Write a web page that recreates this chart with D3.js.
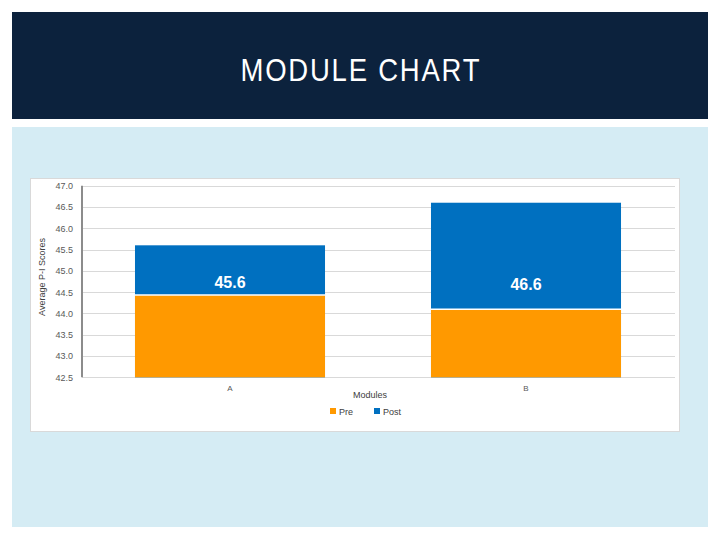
<!DOCTYPE html>
<html>
<head>
<meta charset="utf-8">
<script src="https://cdn.jsdelivr.net/npm/d3@7"></script>
<style>
  html, body { margin: 0; padding: 0; background: #ffffff; }
  svg { display: block; }
</style>
</head>
<body>
<div id="chart"></div>
<script>
// ---- data ----
const title = "MODULE CHART";
const categories = ["A", "B"];
const seriesNames = ["Pre", "Post"];
const preValues = [44.43, 44.1];
const postValues = [45.6, 46.6];
const postLabels = ["45.6", "46.6"];
const yTicks = [42.5, 43.0, 43.5, 44.0, 44.5, 45.0, 45.5, 46.0, 46.5, 47.0];
const yAxisTitle = "Average P-I Scores";
const xAxisTitle = "Modules";
const colors = { Pre: "#ff9900", Post: "#0070c0" };

const W = 720, H = 540;
const svg = d3.select("#chart").append("svg").attr("width", W).attr("height", H);

// slide background
svg.append("rect").attr("x", 0).attr("y", 0).attr("width", W).attr("height", H).attr("fill", "#ffffff");
svg.append("rect").attr("x", 12).attr("y", 12).attr("width", 696).attr("height", 107).attr("fill", "#0c223d");
svg.append("rect").attr("x", 12).attr("y", 127).attr("width", 696).attr("height", 400).attr("fill", "#d5ecf4");

const titleScale = 0.86;
svg.append("text")
  .attr("transform", `translate(360,81) scale(${titleScale},1)`)
  .attr("text-anchor", "middle")
  .attr("fill", "#ffffff")
  .attr("font-family", "'Liberation Sans', Arial, sans-serif")
  .attr("font-size", 32)
  .attr("textLength", 239 / titleScale)
  .attr("lengthAdjust", "spacing")
  .text(title);

// chart box
svg.append("rect").attr("x", 30.5).attr("y", 178.5).attr("width", 649).attr("height", 253)
  .attr("fill", "#ffffff").attr("stroke", "#d9d9d9").attr("stroke-width", 1);

const plot = { left: 82, right: 674, top: 185.7, bottom: 377.3 };

const y = d3.scaleLinear().domain([42.5, 47.0]).range([plot.bottom, plot.top]);
const x = d3.scaleBand().domain(categories).range([plot.left, plot.right]).paddingInner(0.358).paddingOuter(0.179);

// gridlines
svg.append("g").selectAll("line").data(yTicks).join("line")
  .attr("x1", plot.left).attr("x2", 675)
  .attr("y1", d => Math.round(y(d)) + 0.5).attr("y2", d => Math.round(y(d)) + 0.5)
  .attr("stroke", "#d9d9d9").attr("stroke-width", 1);

// y axis
const yAxis = d3.axisLeft(y).tickValues(yTicks).tickFormat(d3.format(".1f")).tickSize(0).tickPadding(9);
const gy = svg.append("g").attr("transform", `translate(${plot.left},0)`).call(yAxis);
gy.select(".domain").remove();
gy.selectAll("text")
  .attr("font-family", "'Liberation Sans', Arial, sans-serif")
  .attr("font-size", 9).attr("fill", "#595959");

// bars: Post behind, Pre in front (overlapped)
const data = categories.map((c, i) => ({ cat: c, pre: preValues[i], post: postValues[i], label: postLabels[i] }));

svg.append("g").selectAll("rect").data(data).join("rect")
  .attr("x", d => x(d.cat)).attr("width", x.bandwidth())
  .attr("y", d => y(d.post)).attr("height", d => y(42.5) - y(d.post))
  .attr("fill", colors.Post);

svg.append("g").selectAll("rect").data(data).join("rect")
  .attr("x", d => x(d.cat)).attr("width", x.bandwidth())
  .attr("y", d => y(d.pre)).attr("height", d => y(42.5) - y(d.pre))
  .attr("fill", colors.Pre);
svg.append("g").selectAll("line").data(data).join("line")
  .attr("x1", d => x(d.cat)).attr("x2", d => x(d.cat) + x.bandwidth())
  .attr("y1", d => y(d.pre)).attr("y2", d => y(d.pre))
  .attr("stroke", "#ffffff").attr("stroke-width", 1.5);

// value labels (placed near the 44.75 level, as in the source chart)
svg.append("g").selectAll("text").data(data).join("text")
  .attr("x", d => x(d.cat) + x.bandwidth() / 2)
  .attr("y", (d, i) => y(44.75) + 6 + i * 2)
  .attr("text-anchor", "middle")
  .attr("fill", "#ffffff")
  .attr("font-family", "'Liberation Sans', Arial, sans-serif")
  .attr("font-weight", "bold")
  .attr("font-size", 16)
  .text(d => d.label);

// y axis line
svg.append("line").attr("x1", plot.left).attr("x2", plot.left)
  .attr("y1", plot.top).attr("y2", plot.bottom)
  .attr("stroke", "#8c8c8c").attr("stroke-width", 2);

// x axis
const xAxis = d3.axisBottom(x).tickSize(0).tickPadding(8);
const gx = svg.append("g").attr("transform", `translate(0,${plot.bottom})`).call(xAxis);
gx.select(".domain").remove();
gx.selectAll("text")
  .attr("font-family", "'Liberation Sans', Arial, sans-serif")
  .attr("font-size", 8).attr("fill", "#595959");

// axis titles
svg.append("text")
  .attr("transform", "translate(45,277) rotate(-90)")
  .attr("text-anchor", "middle")
  .attr("font-family", "'Liberation Sans', Arial, sans-serif")
  .attr("font-size", 9).attr("fill", "#404040")
  .text(yAxisTitle);

svg.append("text")
  .attr("x", 370).attr("y", 398)
  .attr("text-anchor", "middle")
  .attr("font-family", "'Liberation Sans', Arial, sans-serif")
  .attr("font-size", 9).attr("fill", "#404040")
  .text(xAxisTitle);

// legend
const legendX = [330, 374];
const lg = svg.append("g").selectAll("g").data(seriesNames).join("g")
  .attr("transform", (d, i) => `translate(${legendX[i]},408)`);
lg.append("rect").attr("x", 0).attr("y", 0).attr("width", 6).attr("height", 6)
  .attr("fill", d => colors[d]);
lg.append("text").attr("x", 9).attr("y", 7)
  .attr("font-family", "'Liberation Sans', Arial, sans-serif")
  .attr("font-size", 9).attr("fill", "#404040")
  .text(d => d);
</script>
</body>
</html>
